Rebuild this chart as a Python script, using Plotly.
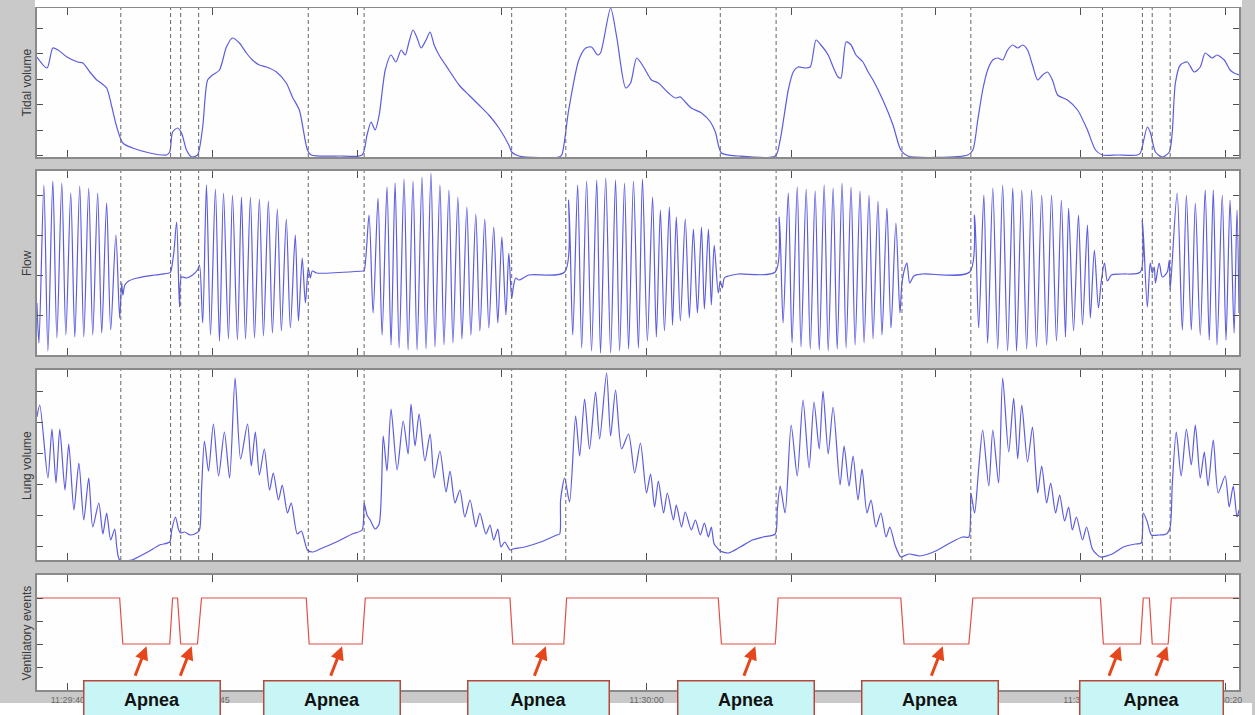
import plotly.graph_objects as go

W, H = 1255, 715

# ---------------- data (time in seconds after 11:29:00) ----------------
TICK_SECONDS = [40, 45, 50, 55, 60, 65, 70, 75, 80]
TICK_LABELS = ["11:29:40", "11:29:45", "11:29:50", "11:29:55", "11:30:00",
               "11:30:05", "11:30:10", "11:30:15", "11:30:20"]
T_START, T_END = 38.93, 80.48

# event boundaries (dashed markers)
EVENT_BOUNDS = [41.83, 43.55, 43.90, 44.52, 48.31, 50.24, 55.34, 57.21,
                62.55, 64.48, 68.83, 71.21, 75.76, 77.14, 77.48, 78.10]

# Tidal volume
TV_T = [38.93, 39.28, 39.48, 39.66, 39.97, 40.34, 40.52, 40.76, 41.00, 41.10, 41.34, 41.52,
        41.69, 41.90, 42.24, 42.83, 43.41, 43.52, 43.62, 43.79, 43.93, 44.10, 44.28, 44.48,
        44.66, 44.83, 45.00, 45.24, 45.48, 45.69, 45.93, 46.17, 46.38, 46.62, 46.86, 47.21,
        47.55, 47.76, 48.00, 48.28, 48.41, 49.38, 50.17,
        50.34, 50.48, 50.62, 50.76, 50.97, 51.17, 51.34, 51.52, 51.66, 51.79, 51.93, 52.07,
        52.21, 52.38, 52.52, 52.66, 52.83, 53.17, 53.52, 53.86, 54.21, 54.55, 54.90, 55.24,
        55.34, 55.59, 56.97,
        57.07, 57.31, 57.66, 57.90, 58.10, 58.31, 58.41, 58.76, 58.97, 59.28, 59.45, 59.66,
        59.90, 60.17, 60.41, 60.76, 61.00, 61.17, 61.34, 61.55, 61.90, 62.21, 62.38, 62.59,
        63.17, 64.45,
        64.62, 64.90, 65.07, 65.24, 65.48, 65.66, 65.86, 66.03, 66.28, 66.45, 66.62, 66.72,
        66.90, 67.07, 67.24, 67.48, 67.66, 67.83, 68.17, 68.52, 68.79, 69.03, 71.10,
        71.28, 71.45, 71.62, 71.79, 71.97, 72.14, 72.31, 72.48, 72.66, 72.83, 73.00, 73.17,
        73.34, 73.52, 73.69, 73.86, 74.03, 74.21, 74.55, 74.90, 75.24, 75.52, 75.76, 76.28,
        76.97,
        77.07, 77.31, 77.41, 77.59, 77.83, 78.07, 78.17, 78.28, 78.45, 78.69, 78.93, 79.14,
        79.31, 79.55, 79.72, 79.97, 80.17, 80.31, 80.48]
TV_V = [100, 89, 109, 107, 100, 95, 94, 85, 77, 75, 69, 50,
        30, 14, 9, 4, 2, 5, 25, 29, 24, 7, 0, 2,
        30, 77, 82, 87, 110, 119, 114, 104, 97, 92, 90, 85,
        74, 60, 47, 7, 2, 1, 2,
        22, 35, 27, 42, 87, 102, 95, 107, 102, 115, 127, 119,
        109, 117, 125, 112, 102, 87, 72, 62, 52, 42, 29, 12,
        5, 1, 0,
        2, 47, 97, 109, 110, 102, 104, 149, 120, 69, 74, 99,
        90, 77, 74, 64, 59, 60, 55, 49, 44, 35, 25, 4,
        1, 1,
        17, 67, 85, 90, 89, 90, 117, 112, 102, 90, 80, 79,
        115, 112, 102, 95, 85, 77, 57, 32, 7, 1, 2,
        7, 37, 67, 87, 97, 99, 97, 107, 112, 109, 112, 107,
        92, 77, 82, 85, 77, 62, 57, 47, 27, 7, 2, 2,
        2,
        4, 30, 25, 5, 0, 5, 24, 74, 92, 95, 85, 90,
        104, 99, 102, 97, 87, 84, 82]

# Flow
FLOW_T = [38.93, 39.00, 39.17, 39.31, 39.48, 39.62, 39.79, 39.93, 40.10, 40.24, 40.41, 40.55,
          40.72, 40.86, 41.03, 41.17, 41.34, 41.48, 41.66, 41.79, 41.86, 41.90, 41.97, 42.10,
          42.40, 43.00, 43.50,
          43.55, 43.66, 43.76, 43.86, 43.93, 44.10, 44.31, 44.48, 44.55,
          44.66, 44.79, 44.93, 45.10, 45.24, 45.38, 45.55, 45.69, 45.86, 46.00, 46.14, 46.31,
          46.45, 46.62, 46.76, 46.93, 47.07, 47.24, 47.38, 47.55, 47.69, 47.86, 47.97, 48.10,
          48.21, 48.31, 48.38, 48.45, 48.60, 50.20,
          50.24, 50.41, 50.55, 50.72, 50.86, 51.03, 51.17, 51.31, 51.45, 51.62, 51.76, 51.93,
          52.07, 52.24, 52.38, 52.55, 52.69, 52.86, 53.00, 53.17, 53.31, 53.48, 53.62, 53.79,
          53.93, 54.10, 54.24, 54.41, 54.55, 54.72, 54.86, 55.00, 55.14, 55.24, 55.34, 55.41,
          55.48, 55.59, 55.93, 57.17,
          57.31, 57.45, 57.62, 57.76, 57.93, 58.10, 58.28, 58.41, 58.59, 58.76, 58.93, 59.07,
          59.24, 59.38, 59.55, 59.72, 59.86, 60.03, 60.21, 60.34, 60.48, 60.62, 60.79, 60.90,
          61.03, 61.17, 61.34, 61.48, 61.62, 61.76, 61.90, 62.00, 62.14, 62.24, 62.34, 62.48,
          62.55, 62.62, 62.69, 62.83, 63.17, 64.45,
          64.59, 64.72, 64.90, 65.03, 65.21, 65.34, 65.52, 65.66, 65.83, 65.97, 66.14, 66.28,
          66.45, 66.59, 66.76, 66.90, 67.07, 67.21, 67.38, 67.52, 67.69, 67.83, 68.00, 68.14,
          68.31, 68.45, 68.62, 68.76, 68.83, 68.93, 69.00, 69.10, 69.24, 69.55, 71.17,
          71.34, 71.48, 71.66, 71.79, 71.97, 72.14, 72.31, 72.48, 72.66, 72.79, 72.97, 73.14,
          73.31, 73.48, 73.66, 73.83, 74.00, 74.17, 74.34, 74.48, 74.59, 74.76, 74.93, 75.07,
          75.24, 75.34, 75.48, 75.62, 75.72, 75.83, 75.93, 76.07, 76.45, 77.07,
          77.14, 77.31, 77.41, 77.48, 77.55, 77.59, 77.72, 77.83, 78.00, 78.07, 78.10,
          78.34, 78.52, 78.66, 78.83, 78.97, 79.14, 79.31, 79.45, 79.59, 79.72, 79.90, 80.03,
          80.17, 80.31, 80.41, 80.48]
FLOW_V = [-30, -70, 88, -78, 92, -65, 90, -62, 80, -64, 87, -64,
          85, -62, 80, -60, 70, -57, 38, -45, -10, -22, -12, -8,
          -5, -2, 0,
          1, 20, 51, -34, -4, -5, -2, 3, 8,
          -50, 88, -62, 84, -68, 80, -66, 78, -67, 76, -66, 76,
          -65, 74, -63, 72, -60, 64, -58, 54, -55, 38, -48, 15,
          -30, 5, -5, 2, 0, 2,
          2, 58, -40, 75, -62, 86, -72, 90, -75, 94, -77, 92,
          -77, 96, -76, 100, -74, 88, -72, 83, -70, 76, -66, 66,
          -62, 59, -58, 54, -55, 46, -50, 36, -42, 20, -25, -12,
          -5, -7, -2, 1,
          73, -62, 88, -75, 92, -78, 93, -80, 95, -80, 93, -78,
          90, -76, 92, -75, 94, -68, 76, -64, 63, -58, 66, -52,
          56, -48, 54, -45, 44, -40, 46, -36, 44, -32, 28, -20,
          -8, -15, -5, -3, -1, 1,
          56, -50, 80, -70, 86, -74, 84, -76, 82, -77, 88, -78,
          85, -76, 90, -75, 86, -72, 82, -70, 78, -66, 72, -62,
          65, -55, 50, -40, -10, 5, 10, -10, -3, -1, 1,
          58, -55, 78, -70, 85, -76, 88, -78, 85, -78, 83, -76,
          83, -74, 78, -72, 78, -68, 73, -64, 65, -58, 58, -52,
          48, -45, 23, -35, -8, 10, -8, -2, -1, 1,
          53, -34, 10, 0, 6, -10, 10, -4, 1, 13, -17,
          80, -57, 78, -57, 70, -62, 83, -67, 83, -72, 78, -67,
          73, -60, 63, -40]

# Lung volume
LV_T = [38.93, 39.03, 39.31, 39.45, 39.59, 39.72, 39.90, 40.03, 40.21, 40.38, 40.55, 40.72,
        40.86, 41.07, 41.21, 41.34, 41.48, 41.62, 41.69, 41.79,
        42.21, 42.76, 43.17, 43.52,
        43.59, 43.72, 43.83, 43.90, 44.03, 44.24, 44.45, 44.55,
        44.62, 44.72, 44.86, 45.03, 45.21, 45.41, 45.59, 45.78, 45.97, 46.21, 46.34, 46.48,
        46.62, 46.79, 46.97, 47.10, 47.28, 47.41, 47.59, 47.72, 47.93, 48.07, 48.28,
        48.45, 48.72, 49.28, 49.83, 50.17,
        50.24, 50.34, 50.45, 50.62, 50.76, 50.90, 51.03, 51.17, 51.38, 51.59, 51.76, 51.86,
        52.00, 52.14, 52.34, 52.52, 52.66, 52.86, 53.07, 53.21, 53.38, 53.55, 53.72, 53.90,
        54.10, 54.24, 54.45, 54.59, 54.72, 54.86, 54.97, 55.10, 55.28,
        55.38, 55.79, 56.34, 56.90, 57.00,
        57.03, 57.17, 57.34, 57.55, 57.69, 57.86, 58.03, 58.24, 58.38, 58.62, 58.76, 58.93,
        59.14, 59.38, 59.59, 59.79, 60.00, 60.14, 60.28, 60.41, 60.59, 60.72, 60.93, 61.03,
        61.21, 61.34, 61.55, 61.69, 61.86, 62.00, 62.14, 62.24, 62.34, 62.48,
        62.55, 62.83, 63.24, 63.66, 64.03, 64.45,
        64.52, 64.62, 64.79, 65.00, 65.21, 65.41, 65.62, 65.79, 65.97, 66.10, 66.28, 66.45,
        66.69, 66.83, 67.00, 67.14, 67.31, 67.45, 67.62, 67.76, 67.93, 68.10, 68.28, 68.41,
        68.59, 68.72,
        68.79, 69.07, 69.45, 70.00, 70.55, 70.93, 71.14,
        71.21, 71.34, 71.48, 71.62, 71.83, 71.97, 72.17, 72.31, 72.52, 72.69, 72.83, 72.97,
        73.17, 73.34, 73.45, 73.52, 73.66, 73.83, 73.97, 74.14, 74.28, 74.45, 74.59, 74.72,
        74.86, 75.07, 75.21, 75.41, 75.55,
        75.69, 76.10, 76.48, 76.90, 77.10,
        77.17, 77.31, 77.45, 77.72, 77.97, 78.10,
        78.17, 78.31, 78.48, 78.66, 78.83, 78.97, 79.14, 79.28, 79.41, 79.59, 79.76, 80.00,
        80.14, 80.28, 80.41, 80.48]
LV_V = [143, 155, 82, 131, 77, 131, 70, 116, 50, 97, 40, 82,
        33, 57, 26, 47, 20, 31, 13, 0,
        0, 8, 15, 18,
        30, 43, 30, 27, 28, 25, 27, 30,
        70, 119, 89, 136, 84, 128, 82, 182, 101, 136, 94, 128,
        85, 111, 70, 87, 60, 75, 47, 57, 26, 29, 10,
        8, 11, 18, 26, 30,
        57, 45, 40, 31, 36, 124, 89, 151, 90, 139, 106, 156,
        114, 146, 99, 126, 82, 109, 68, 89, 57, 70, 43, 60,
        33, 47, 26, 35, 20, 31, 13, 18, 10,
        11, 13, 18, 25, 26,
        60, 82, 58, 144, 104, 161, 111, 168, 121, 187, 124, 170,
        111, 126, 87, 117, 67, 86, 53, 79, 47, 67, 40, 55,
        33, 48, 30, 40, 25, 37, 23, 33, 16, 11,
        9, 7, 13, 20, 23, 26,
        50, 74, 47, 135, 84, 160, 92, 158, 111, 169, 106, 153,
        75, 114, 74, 104, 60, 91, 47, 60, 33, 47, 23, 33,
        15, 6,
        3, 6, 4, 9, 18, 23, 23,
        67, 47, 91, 130, 74, 130, 77, 182, 108, 162, 101, 155,
        98, 133, 91, 67, 94, 57, 77, 47, 65, 39, 53, 30,
        43, 20, 33, 11, 6,
        3, 6, 13, 16, 17,
        47, 38, 25, 25, 26, 33,
        74, 128, 84, 131, 95, 135, 82, 108, 74, 120, 67, 84,
        53, 74, 43, 50]

# Ventilatory events (step signal)
VE_T = [38.93, 41.79, 41.90, 43.52, 43.62, 43.79, 43.90, 44.48, 44.62, 48.24, 48.34, 50.17,
        50.28, 55.28, 55.38, 57.14, 57.24, 62.48, 62.59, 64.45, 64.55, 68.79, 68.90, 71.14,
        71.28, 75.69, 75.79, 77.07, 77.17, 77.38, 77.48, 78.03, 78.14, 80.48]
VE_V = [4, 4, 2, 2, 4, 4, 2, 2, 4, 4, 2, 2,
        4, 4, 2, 2, 4, 4, 2, 2, 4, 4, 2, 2,
        4, 4, 2, 2, 4, 4, 2, 2, 4, 4]

# Apnea annotations: arrow target times, label
APNEA_ARROW_T = [42.72, 44.28, 49.48, 56.52, 63.76, 70.24, 76.38, 78.00]
APNEA_LABEL = "Apnea"

Y_LABELS = ["Tidal volume", "Flow", "Lung volume", "Ventilatory events"]

# ---------------- layout constants (pixels) ----------------
X_PIX = (37, 1242)
PANEL_PIX = [(8, 157), (171, 355), (370, 560), (575, 690)]
BOX_PIX = [(85, 220), (265, 400), (470, 610), (680, 815), (865, 1000), (1083, 1225)]

BLUE = "#5c5ce0"
RED = "#e0504a"
AXIS_COL = "#8a8a8a"
TICK_COL = "#505050"

def fx(p):
    return p / W

def fy(p):
    return 1 - p / H

fig = go.Figure()

fig.add_trace(go.Scatter(x=TV_T, y=TV_V, mode="lines", xaxis="x", yaxis="y",
                         line=dict(color=BLUE, width=1.2, shape="spline", smoothing=0.7)))
fig.add_trace(go.Scatter(x=FLOW_T, y=FLOW_V, mode="lines", xaxis="x2", yaxis="y2",
                         line=dict(color=BLUE, width=1.2, shape="spline", smoothing=0.8)))
fig.add_trace(go.Scatter(x=LV_T, y=LV_V, mode="lines", xaxis="x3", yaxis="y3",
                         line=dict(color=BLUE, width=1.2, shape="spline", smoothing=0.7)))
fig.add_trace(go.Scatter(x=VE_T, y=VE_V, mode="lines", xaxis="x4", yaxis="y4",
                         line=dict(color=RED, width=1.2)))

y_specs = [
    dict(range=[0, 149], tick0=27, dtick=25.5),
    dict(range=[-82, 102], tick0=-2, dtick=40),
    dict(range=[0, 190], tick0=14, dtick=31),
    dict(range=[0, 5], tick0=0, dtick=1),
]

layout = dict(
    width=W, height=H, autosize=False,
    margin=dict(l=0, r=0, t=0, b=0),
    paper_bgcolor="#c9c9c9", plot_bgcolor="#fefefe",
    showlegend=False,
    font=dict(family="Liberation Sans, Arial, sans-serif"),
)

for i, ((top, bot), ys) in enumerate(zip(PANEL_PIX, y_specs)):
    n = "" if i == 0 else str(i + 1)
    layout["xaxis" + n] = dict(
        domain=[fx(X_PIX[0]), fx(X_PIX[1])], range=[T_START, T_END],
        anchor="y" + n, tickmode="array", tickvals=TICK_SECONDS, ticktext=TICK_LABELS,
        ticks="inside", ticklen=7, tickcolor=TICK_COL, tickwidth=1,
        showline=True, linecolor=AXIS_COL, linewidth=2, mirror="ticks",
        showgrid=False, zeroline=False, showticklabels=(i == 3),
        tickfont=dict(size=9, color="#6a6a6a"),
    )
    layout["yaxis" + n] = dict(
        domain=[fy(bot), fy(top)], range=ys["range"], anchor="x" + n,
        tickmode="linear", tick0=ys["tick0"], dtick=ys["dtick"],
        ticks="inside", ticklen=6, tickcolor=TICK_COL, tickwidth=1,
        showline=True, linecolor=AXIS_COL, linewidth=2, mirror="ticks",
        showgrid=False, zeroline=False, showticklabels=False,
    )

shapes = []
# page-white strips at top and bottom
shapes.append(dict(type="rect", xref="paper", yref="paper", x0=fx(35), x1=fx(1245),
                   y0=fy(7), y1=1, fillcolor="white", line=dict(width=0), layer="above"))
shapes.append(dict(type="rect", xref="paper", yref="paper", x0=0, x1=1,
                   y0=0, y1=fy(703), fillcolor="white", line=dict(width=0), layer="above"))
# dashed event markers on panels 1-3
for i in range(3):
    n = "" if i == 0 else str(i + 1)
    for t in EVENT_BOUNDS:
        shapes.append(dict(type="line", xref="x" + n, yref="y" + n + " domain",
                           x0=t, x1=t, y0=0, y1=1,
                           line=dict(color="#666666", width=1, dash="4px,3px")))
layout["shapes"] = shapes

annotations = []
for i, lab in enumerate(Y_LABELS):
    top, bot = PANEL_PIX[i]
    annotations.append(dict(text=lab, xref="paper", yref="paper", x=fx(27), y=fy((top + bot) / 2),
                            textangle=-90, showarrow=False, xanchor="center", yanchor="middle",
                            font=dict(size=12, color="#3a3a3a")))
for t in APNEA_ARROW_T:
    annotations.append(dict(text="", x=t, y=1.9, xref="x4", yref="y4", showarrow=True,
                            ax=-12, ay=31, arrowhead=2, arrowsize=0.9, arrowwidth=3,
                            arrowcolor="#e5461c", standoff=0, startstandoff=0))
for (x0, x1) in BOX_PIX:
    annotations.append(dict(text="<b>" + APNEA_LABEL + "</b>", xref="paper", yref="paper",
                            x=fx((x0 + x1) / 2), y=fy(699), xanchor="center", yanchor="middle",
                            showarrow=False, width=x1 - x0, height=36, borderpad=0,
                            bgcolor="#c8f6f6", bordercolor="#b8483a", borderwidth=1.5,
                            font=dict(size=18, color="#111111",
                                      family="Liberation Sans, Arial, sans-serif")))
layout["annotations"] = annotations

fig.update_layout(**layout)
fig.write_html("out.html",
               config={"displayModeBar": False},
               post_script="document.body.style.margin='0px';document.body.style.overflow='hidden';")
